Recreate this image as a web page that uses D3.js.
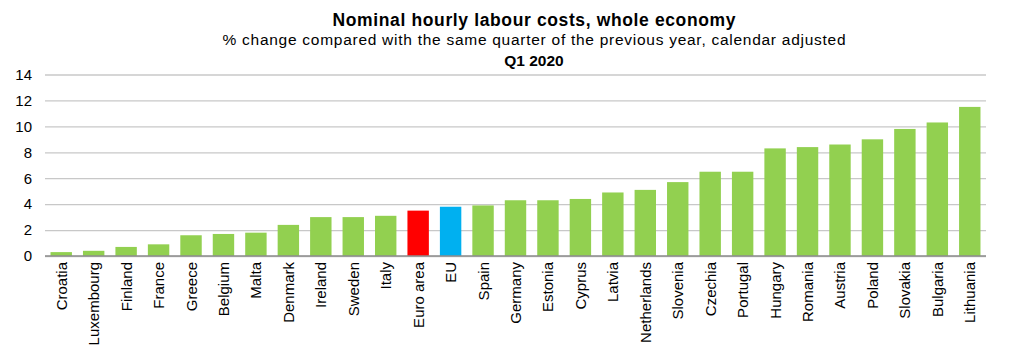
<!DOCTYPE html>
<html>
<head>
<meta charset="utf-8">
<script src="https://cdn.jsdelivr.net/npm/d3@7"></script>
<style>
  body { margin: 0; background: #fff; }
  text { font-family: "Liberation Sans", Arial, sans-serif; fill: #000; }
</style>
</head>
<body>
<svg id="chart" width="1011" height="353"></svg>
<script>
    // data
    const countries = ["Croatia", "Luxembourg", "Finland", "France", "Greece", "Belgium", "Malta",
      "Denmark", "Ireland", "Sweden", "Italy", "Euro area", "EU", "Spain", "Germany", "Estonia",
      "Cyprus", "Latvia", "Netherlands", "Slovenia", "Czechia", "Portugal", "Hungary", "Romania",
      "Austria", "Poland", "Slovakia", "Bulgaria", "Lithuania"];
    const values = [0.3, 0.4, 0.7, 0.9, 1.6, 1.7, 1.8, 2.4, 3.0, 3.0, 3.1, 3.5, 3.8, 3.9, 4.3, 4.3,
      4.4, 4.9, 5.1, 5.7, 6.5, 6.5, 8.3, 8.4, 8.6, 9.0, 9.8, 10.3, 11.5];
    const yTicks = [0, 2, 4, 6, 8, 10, 12, 14];
    const highlight = { "Euro area": "#ff0000", "EU": "#00b0f0" };

    const svg = d3.select("#chart"),
    width = +svg.attr("width"),
    height = +svg.attr("height");

    const margin = { left: 45, right: 25, top: 75, bottom: 97 };

    const x = d3.scaleBand()
    .domain(countries)
    .range([margin.left, width - margin.right])
    .paddingInner(0.34)
    .paddingOuter(0.17);

    const y = d3.scaleLinear()
    .domain([0, 14])
    .range([height - margin.bottom, margin.top - 0.5]);

    // titles (centre of the title block sits a bit right of the page centre)
    const cx = 534;
    svg.append("text")
    .attr("x", cx).attr("y", 25.5)
    .attr("text-anchor", "middle")
    .attr("textLength", 403).attr("lengthAdjust", "spacing")
    .style("font-weight", "bold").style("font-size", "17.5px")
    .text("Nominal hourly labour costs, whole economy");
    svg.append("text")
    .attr("x", cx).attr("y", 44.5)
    .attr("text-anchor", "middle")
    .attr("textLength", 623).attr("lengthAdjust", "spacing")
    .style("font-size", "15.5px")
    .text("% change compared  with the same quarter of the previous  year, calendar adjusted");
    svg.append("text")
    .attr("x", cx).attr("y", 65.5)
    .attr("text-anchor", "middle")
    .style("font-weight", "bold").style("font-size", "15.5px")
    .text("Q1 2020");

    // gridlines + y labels
    const yAxis = d3.axisLeft(y)
    .tickValues(yTicks)
    .tickSize(-(width - margin.left - margin.right))
    .tickPadding(13)
    .tickFormat(d => d);

    const gy = svg.append("g")
    .attr("transform", `translate(${margin.left},0)`)
    .call(yAxis);
    gy.select(".domain").remove();
    gy.selectAll(".tick line").attr("stroke", "#c8c8c8").attr("stroke-width", 1.3);
    gy.selectAll(".tick text").style("font-size", "15px").style("font-family", "Liberation Sans, Arial, sans-serif");

    // bars
    svg.append("g")
    .selectAll("rect")
    .data(countries)
    .enter()
    .append("rect")
    .attr("x", d => x(d))
    .attr("width", x.bandwidth())
    .attr("y", (d, i) => y(values[i]))
    .attr("height", (d, i) => y(0) - y(values[i]))
    .attr("fill", d => highlight[d] || "#92d050");

    // zero line
    svg.append("line")
    .attr("x1", margin.left).attr("x2", width - margin.right)
    .attr("y1", y(0)).attr("y2", y(0))
    .attr("stroke", "#8c8c8c").attr("stroke-width", 1.3);

    // category labels, rotated
    svg.append("g")
    .selectAll("text")
    .data(countries)
    .enter()
    .append("text")
    .attr("transform", d => `translate(${x(d) + x.bandwidth() / 2 + 5.5},${y(0) + 6}) rotate(-90)`)
    .attr("text-anchor", "end")
    .style("font-size", "15px")
    .text(d => d);
</script>
</body>
</html>
